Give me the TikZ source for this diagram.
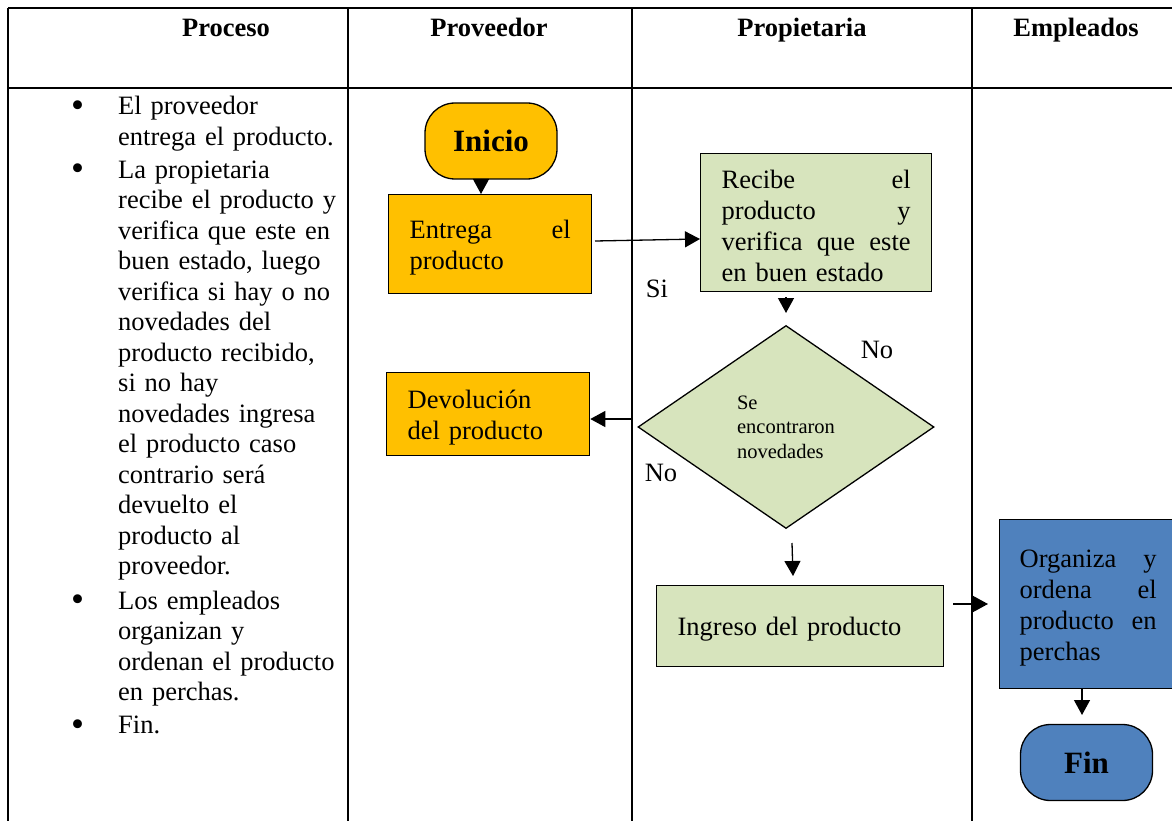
\documentclass[tikz,border=0pt]{standalone}
\usepackage{fontspec}
\setmainfont{Liberation Serif}
\usetikzlibrary{shapes.geometric,arrows.meta}
\definecolor{gold}{HTML}{FFC000}
\definecolor{sage}{HTML}{D7E4BD}
\definecolor{steel}{HTML}{4F81BD}
\newcommand{\bul}{\leavevmode\llap{\raisebox{-2.5pt}{\scalebox{1.4}{•}}\hspace{34pt}}}
\newcommand{\tp}{\rule{0pt}{25pt}}
\begin{document}
\begin{tikzpicture}[x=1pt,y=-1pt,
  every node/.style={font=\fontsize{26.5}{30.5}\selectfont, inner sep=0pt},
  lane/.style={line width=2pt},
  box/.style={draw=black, line width=1.3pt, anchor=north west, inner xsep=21pt, inner ysep=0pt, align=left, font=\fontsize{26.5}{31}\selectfont},
  term/.style={draw=black, line width=1.3pt, rounded corners=30pt, minimum width=132pt, minimum height=76pt, font=\bfseries\fontsize{31}{36}\selectfont},
  conn/.style={line width=1.3pt, -{Triangle[length=15pt,width=16pt]}},
  head/.style={anchor=base, font=\bfseries\fontsize{26.5}{30.5}\selectfont},
  lbl/.style={anchor=center}
]
\useasboundingbox (0,0) rectangle (1172,821);
\begin{scope}
\clip (0,0) rectangle (1172,821);
% table
\draw[lane] (8,8) -- (1190,8);
\draw[lane] (8,88) -- (1190,88);
\draw[lane] (8,8) -- (8,830);
\draw[lane] (348,8) -- (348,830);
\draw[lane] (632,8) -- (632,830);
\draw[lane] (972,8) -- (972,830);
% headers
\node[head] (h1) at (226,37) {Proceso};
\node[head] (h2) at (489,37) {Proveedor};
\node[head] (h3) at (802,37) {Propietaria};
\node[head] (h4) at (1076,37) {Empleados};
% list
\node[anchor=north west, text width=240pt, align=left] (list) at (118,96) {%
\bul El proveedor\\
entrega el producto.\\[2.5pt]
\bul La propietaria\\
recibe el producto y\\
verifica que este en\\
buen estado, luego\\
verifica si hay o no\\
novedades del\\
producto recibido,\\
si no hay\\
novedades ingresa\\
el producto caso\\
contrario será\\
devuelto el\\
producto al\\
proveedor.\\[4pt]
\bul Los empleados\\
organizan y\\
ordenan el producto\\
en perchas.\\[2.5pt]
\bul Fin.};
% shapes
\node[term, fill=gold] (ini) at (491,141) {Inicio};
\node[box, fill=gold, text width=161pt, minimum height=99pt] (ent) at (388,194) {\tp Entrega\hfill el\\producto};
\node[box, fill=sage, text width=189pt, minimum height=138pt] (rec) at (700,153) {\tp Recibe\hfill el\\producto\hfill y\\verifica\hfill que\hfill este\\en buen estado};
\node[diamond, draw=black, line width=1.3pt, fill=sage, minimum width=296pt, minimum height=203pt, align=left, font=\fontsize{20.5}{24.5}\selectfont] (dec) at (786,427) {Se\\encontraron\\novedades};
\node[box, fill=gold, text width=161pt, minimum height=83pt] (dev) at (386,372) {\tp Devolución\\del producto};
\node[box, fill=sage, text width=245pt, minimum height=81pt] (ing) at (656,585) {\tp Ingreso del producto};
\node[box, fill=steel, text width=137pt, inner xsep=20pt, minimum height=169pt] (org) at (999,519) {\tp Organiza\hfill y\\ordena\hfill el\\producto\hfill en\\perchas};
\node[term, fill=steel] (fin) at (1086.5,762.5) {Fin};
% labels
\node[lbl] (si) at (657,289) {Si};
\node[lbl] (no1) at (877,350) {No};
\node[lbl] (no2) at (661,473) {No};
% connectors
\coordinate (a1) at (481,179);
\coordinate (a1e) at (481,194);
\draw[conn] (a1) -- (a1e);
\coordinate (a2) at (595,241);
\coordinate (a2e) at (700,239);
\draw[conn] (a2) -- (a2e);
\coordinate (a3) at (786,297);
\coordinate (a3e) at (786,313);
\draw[conn] (a3) -- (a3e);
\coordinate (a4) at (631,419);
\draw[conn] (a4) -- (dev.east |- a4);
\coordinate (a5) at (792,543);
\coordinate (a5e) at (793,576);
\draw[conn] (a5) -- (a5e);
\coordinate (a6) at (953,604);
\coordinate (a6e) at (988,604);
\draw[conn] (a6) -- (a6e);
\coordinate (a7) at (1082,688);
\coordinate (a7e) at (1082,715);
\draw[conn] (a7) -- (a7e);
\end{scope}
\end{tikzpicture}
\end{document}
